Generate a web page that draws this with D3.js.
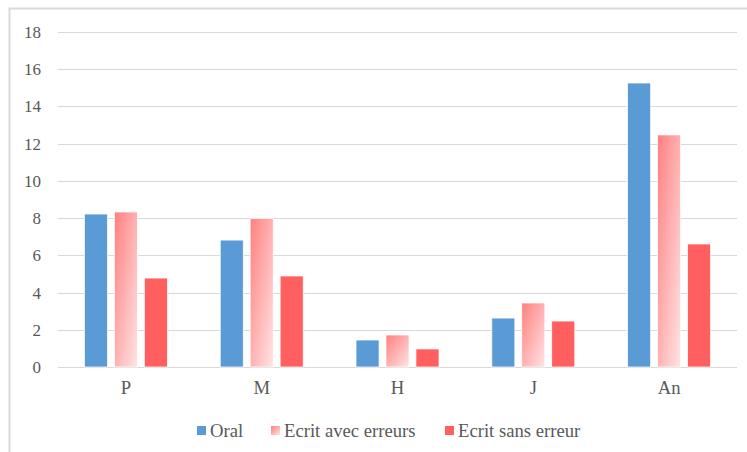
<!DOCTYPE html>
<html>
<head>
<meta charset="utf-8">
<script src="https://cdnjs.cloudflare.com/ajax/libs/d3/7.8.5/d3.min.js"></script>
<style>
	body { margin: 0; background: #fff; }
	svg text { font-family: "Liberation Serif", Tinos, "Times New Roman", "DejaVu Serif", serif; fill: #595959; }
</style>
</head>
<body>
<div id="chart"></div>
<script>

///////////////////////////////////////////////////////////////////////////
//////////////////////////////// The data /////////////////////////////////
///////////////////////////////////////////////////////////////////////////

var categories = ["P", "M", "H", "J", "An"];
var seriesNames = ["Oral", "Ecrit avec erreurs", "Ecrit sans erreur"];
var oral = [8.22, 6.82, 1.45, 2.63, 15.26];
var ecritAvec = [8.33, 7.98, 1.72, 3.44, 12.47];
var ecritSans = [4.78, 4.89, 0.97, 2.47, 6.61];
var yTicks = [0, 2, 4, 6, 8, 10, 12, 14, 16, 18];

var seriesValues = [oral, ecritAvec, ecritSans];
var seriesFills = ["#5B9BD5", "url(#pink-gradient)", "#FF5F5F"];

var fontStack = '"Liberation Serif", Tinos, "Times New Roman", "DejaVu Serif", serif';

///////////////////////////////////////////////////////////////////////////
//////////////////// Set up and initiate svg containers ///////////////////
///////////////////////////////////////////////////////////////////////////

var width = 747,
	height = 452;

var margin = { top: 32, right: 10, bottom: 85, left: 58 };

var svg = d3.select("#chart")
	.append("svg")
	.attr("width", width)
	.attr("height", height);

//Chart frame (cut off on the right and bottom as in the picture)
svg.append("rect")
	.attr("x", 9.5)
	.attr("y", 8.5)
	.attr("width", width + 20)
	.attr("height", height + 20)
	.style("fill", "none")
	.style("stroke", "#D9D9D9")
	.style("stroke-width", 2);

var defs = svg.append("defs");

var pinkGradient = defs.append("linearGradient")
	.attr("id", "pink-gradient")
	.attr("x1", 0).attr("y1", 0)
	.attr("x2", 1).attr("y2", 1);
pinkGradient.append("stop").attr("offset", 0).attr("stop-color", "#FF7F7F");
pinkGradient.append("stop").attr("offset", 1).attr("stop-color", "#FFE4E4");

///////////////////////////////////////////////////////////////////////////
//////////////////////////////// Scales ///////////////////////////////////
///////////////////////////////////////////////////////////////////////////

var x0 = d3.scaleBand()
	.domain(categories)
	.range([margin.left, width - margin.right]);

var groupWidth = 83;
var x1 = d3.scaleBand()
	.domain(d3.range(seriesNames.length))
	.range([0, groupWidth])
	.paddingInner(0.23);

var y = d3.scaleLinear()
	.domain([0, 18])
	.range([height - margin.bottom, margin.top]);

///////////////////////////////////////////////////////////////////////////
//////////////////////////////// Axes /////////////////////////////////////
///////////////////////////////////////////////////////////////////////////

var yAxis = svg.append("g")
	.attr("transform", "translate(" + margin.left + ",0)")
	.call(d3.axisLeft(y)
		.tickValues(yTicks)
		.tickSize(-(width - margin.left - margin.right))
		.tickPadding(17));

yAxis.attr("font-family", null).attr("font-size", null);
yAxis.select(".domain").remove();
yAxis.selectAll(".tick line")
	.style("stroke", "#D9D9D9")
	.attr("shape-rendering", "crispEdges");
yAxis.selectAll(".tick text")
	.style("font-size", "17px")
	.style("font-family", fontStack)
	.style("fill", "#595959");

var xAxis = svg.append("g")
	.attr("transform", "translate(0," + y(0) + ")")
	.call(d3.axisBottom(x0).tickSize(0).tickPadding(14));

xAxis.attr("font-family", null).attr("font-size", null);
xAxis.select(".domain").remove();
xAxis.selectAll(".tick text")
	.style("font-size", "18.67px")
	.style("font-family", fontStack)
	.style("fill", "#595959");

///////////////////////////////////////////////////////////////////////////
//////////////////////////////// Bars /////////////////////////////////////
///////////////////////////////////////////////////////////////////////////

var groups = svg.selectAll(".group")
	.data(categories)
	.enter().append("g")
	.attr("class", "group")
	.attr("transform", function(d) {
		return "translate(" + (x0(d) + (x0.bandwidth() - groupWidth) / 2) + ",0)";
	});

groups.selectAll("rect")
	.data(function(d, i) {
		return seriesValues.map(function(s, j) { return { series: j, value: s[i] }; });
	})
	.enter().append("rect")
	.attr("x", function(d) { return x1(d.series); })
	.attr("width", x1.bandwidth())
	.attr("y", function(d) { return y(d.value); })
	.attr("height", function(d) { return y(0) - y(d.value); })
	.style("fill", function(d) { return seriesFills[d.series]; })
	.style("stroke", "#fff")
	.style("stroke-width", 0.75);

///////////////////////////////////////////////////////////////////////////
//////////////////////////////// Legend ///////////////////////////////////
///////////////////////////////////////////////////////////////////////////

var legendX = [197, 271, 445];

var legend = svg.selectAll(".legend")
	.data(seriesNames)
	.enter().append("g")
	.attr("class", "legend")
	.attr("transform", function(d, i) { return "translate(" + legendX[i] + ",426)"; });

legend.append("rect")
	.attr("width", 9)
	.attr("height", 9)
	.style("fill", function(d, i) { return seriesFills[i]; });

legend.append("text")
	.attr("x", 13)
	.attr("y", 4.5)
	.attr("dy", "0.35em")
	.style("font-size", "18.67px")
	.style("font-family", fontStack)
	.text(function(d) { return d; });

</script>
</body>
</html>
